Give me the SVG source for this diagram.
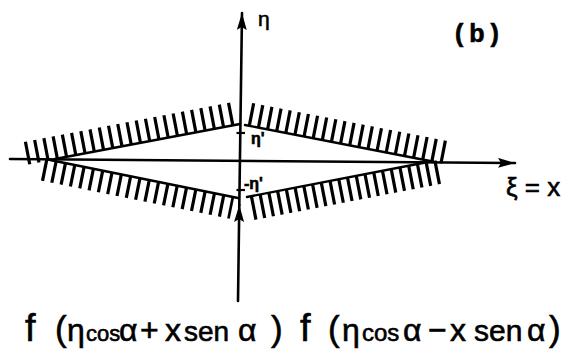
<svg xmlns="http://www.w3.org/2000/svg" width="568" height="352" viewBox="0 0 568 352">
  <style>
    .ax{stroke:#000;stroke-width:2.6;fill:none;stroke-linecap:round}
    .edge{stroke:#000;stroke-width:2.4;fill:none;stroke-linecap:round}
    .hatch{stroke:#000;fill:none}
    .tick{stroke:#000;stroke-width:2.2;fill:none}
    .lbl{font-family:"Liberation Sans",Arial,sans-serif;fill:#000;stroke:#000;stroke-width:0.6}
  </style>
  <defs>
    <marker id="arr" markerUnits="userSpaceOnUse" markerWidth="18" markerHeight="10" refX="17" refY="5" orient="auto">
      <path d="M0,0 L17,5 L0,10 L3,5 z" fill="#000"/>
    </marker>
  </defs>
  <rect width="568" height="352" fill="#fff"/>

  <g id="connectors">
    <path id="xi-axis" class="ax" d="M10,159 L515,163" marker-end="url(#arr)"/>
    <path id="eta-axis-low" class="ax" d="M238,301 L239.3,205" marker-end="url(#arr)"/>
    <path id="eta-axis-high" class="ax" d="M239.3,205 L242,13" marker-end="url(#arr)"/>
  </g>

  <g id="region">
    <path class="edge" d="M55,159 L240,124"/>
    <path class="edge" d="M245,125 L430,161"/>
    <path class="edge" d="M247,197 L433,161"/>
    <path class="edge" d="M50,160 L238,198"/>
    <path class="hatch" d="M26,153.3 L232.9,113.7" stroke-width="23" stroke-dasharray="3.2 6.2"/>
    <path class="hatch" d="M249.9,114.3 L445.2,152.3" stroke-width="23" stroke-dasharray="3.2 6.1"/>
    <path class="hatch" d="M252.1,208.2 L441.1,171.6" stroke-width="24" stroke-dasharray="3.2 5.7"/>
    <path class="hatch" d="M43.1,169.8 L232,208" stroke-width="22" stroke-dasharray="3.2 6.3"/>
  </g>

  <g id="ticks">
    <path class="tick" d="M236.5,133 H245"/>
    <path class="tick" d="M236.5,190 H245"/>
  </g>

  <g id="labels">
    <text class="lbl" x="258" y="26" font-size="21">η</text>
    <text class="lbl" x="455" y="42" font-size="25" font-weight="bold" letter-spacing="6">(b)</text>
    <text class="lbl" x="251" y="144" font-size="16" font-weight="bold">η'</text>
    <text class="lbl" x="244" y="189" font-size="16" font-weight="bold">-η'</text>
    <text class="lbl" x="506" y="196" font-size="26">ξ = x</text>
  </g>

  <g id="formula">
    <text class="lbl" y="341" font-size="32" stroke-width="0.9">
      <tspan x="25" font-size="38">f</tspan>
      <tspan x="55" font-size="35">(</tspan>
      <tspan x="67">η</tspan>
      <tspan x="86" font-size="22">cos</tspan>
      <tspan x="119">α</tspan>
      <tspan x="140">+</tspan>
      <tspan x="165">x</tspan>
      <tspan x="184" font-size="28">sen</tspan>
      <tspan x="238">α</tspan>
      <tspan x="271" font-size="35">)</tspan>
      <tspan x="300" font-size="38">f</tspan>
      <tspan x="328" font-size="35">(</tspan>
      <tspan x="342">η</tspan>
      <tspan x="362" font-size="24">cos</tspan>
      <tspan x="403">α</tspan>
      <tspan x="428">−</tspan>
      <tspan x="450">x</tspan>
      <tspan x="474" font-size="30">sen</tspan>
      <tspan x="527">α</tspan>
      <tspan x="549" font-size="35">)</tspan>
    </text>
  </g>
</svg>
